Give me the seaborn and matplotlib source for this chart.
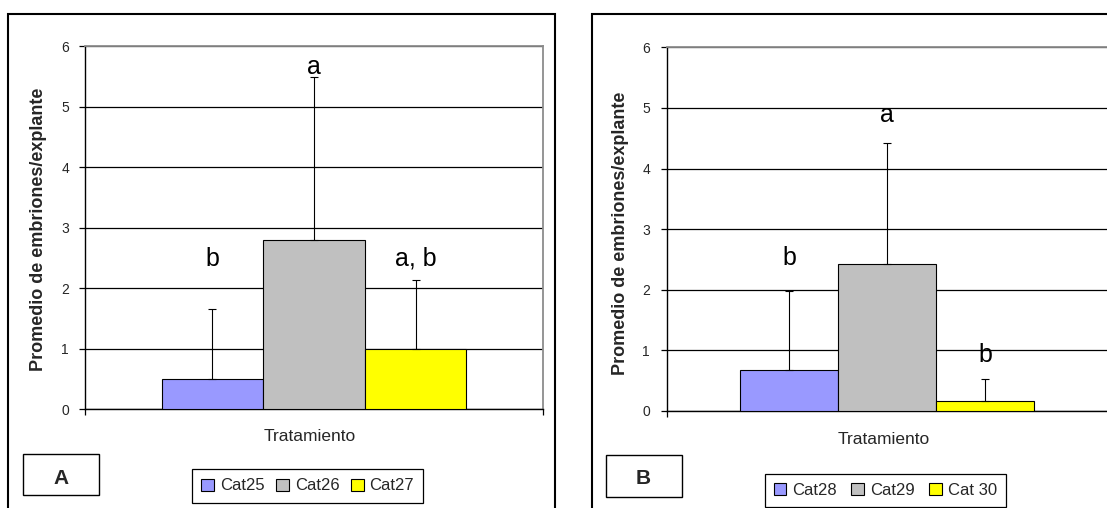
import numpy as np
import pandas as pd
import matplotlib
matplotlib.use("Agg")
import matplotlib.pyplot as plt
from matplotlib.patches import Rectangle, Patch
import seaborn as sns

# ---- data -------------------------------------------------------------
series_a = ["Cat25", "Cat26", "Cat27"]
means_a = [0.5, 2.8, 1.0]
sd_a = [1.15, 2.7, 1.14]
letters_a = ["b", "a", "a, b"]
letter_y_a = [2.37, 5.55, 2.37]

series_b = ["Cat28", "Cat29", "Cat 30"]
means_b = [0.67, 2.42, 0.165]
sd_b = [1.31, 2.0, 0.355]
letters_b = ["b", "a", "b"]
letter_y_b = [2.41, 4.77, 0.81]

bar_colors = ["#9999FF", "#C0C0C0", "#FFFF00"]
category = "Tratamiento"
y_label = "Promedio de embriones/explante"
y_ticks = [0, 1, 2, 3, 4, 5, 6]

# ---- style ------------------------------------------------------------
sns.set_style("white")
plt.rcParams["font.family"] = ["Liberation Sans", "DejaVu Sans"]

W, H = 1107, 508
fig = plt.figure(figsize=(W / 100, H / 100), dpi=100)


def fx(x):
    return x / W


def fy(y):
    return 1 - y / H


def px_axes(left, top, right, bottom):
    return fig.add_axes([fx(left), fy(bottom), (right - left) / W, (bottom - top) / H])


def panel(ax, series, means, sds, letters, letter_y):
    df = pd.DataFrame({"Tratamiento": [category] * len(series),
                       "Serie": series, "Media": means})
    sns.barplot(data=df, x="Tratamiento", y="Media", hue="Serie",
                hue_order=series, palette=bar_colors, errorbar=None,
                width=0.8, edgecolor="black", linewidth=0.8,
                saturation=1, legend=False, ax=ax, zorder=3)
    bars = [p for p in ax.patches][:len(series)]
    centers = [p.get_x() + p.get_width() / 2 for p in bars]
    ax.errorbar(centers, means, yerr=[[0] * len(sds), sds], fmt="none",
                ecolor="black", elinewidth=0.8, capsize=3.2, capthick=0.8,
                zorder=4)
    for cx, s, ly in zip(centers, letters, letter_y):
        ax.text(cx, ly, s, ha="center", va="baseline", fontsize=18,
                color="black", zorder=5)

    ax.set_xlim(-0.6, 0.6)
    ax.set_ylim(0, 6)
    ax.set_yticks(y_ticks)
    ax.set_yticklabels([str(t) for t in y_ticks], fontsize=10)
    ax.set_xticks([-0.6, 0.6])
    ax.set_xticklabels(["", ""])
    ax.tick_params(axis="both", direction="out", length=4.3, width=0.9,
                   color="black", pad=7.5, left=True, bottom=True)
    ax.yaxis.grid(True, color="black", linewidth=0.9, zorder=0)
    ax.xaxis.grid(False)
    ax.set_axisbelow(True)
    for side in ("left", "bottom"):
        ax.spines[side].set_color("black")
        ax.spines[side].set_linewidth(1.0)
    for side in ("top", "right"):
        ax.spines[side].set_color("#8c8c8c")
        ax.spines[side].set_linewidth(1.3)

    ax.set_xlabel(category, fontsize=12.5, ha="center", va="center")
    ax.set_ylabel(y_label, fontsize=13, fontweight="bold",
                  ha="center", va="center")
    return centers


# ---- panel A ----------------------------------------------------------
ax_a = px_axes(85.3, 46.3, 542.7, 409.3)
panel(ax_a, series_a, means_a, sd_a, letters_a, letter_y_a)
ax_a.xaxis.set_label_coords(0.49, -0.076)
ax_a.yaxis.set_label_coords(-0.1034, 0.495)

# ---- panel B ----------------------------------------------------------
ax_b = px_axes(666.5, 47.3, 1107.5, 411.0)
panel(ax_b, series_b, means_b, sd_b, letters_b, letter_y_b)
ax_b.xaxis.set_label_coords(0.493, -0.077)
ax_b.yaxis.set_label_coords(-0.1054, 0.489)

# ---- outer frames -----------------------------------------------------
for (l, t, r, b) in [(8.3, 14, 555, 530), (591.5, 14, 1130, 530)]:
    fig.add_artist(Rectangle((fx(l), fy(b)), (r - l) / W, (b - t) / H,
                             transform=fig.transFigure, fill=False,
                             edgecolor="black", linewidth=1.5))

# ---- panel tags -------------------------------------------------------
for tag, (l, t, r, b), base in [("A", (23.3, 454, 99.3, 495.3), 484),
                                ("B", (605.5, 454.6, 681.8, 496.6), 484.2)]:
    fig.add_artist(Rectangle((fx(l), fy(b)), (r - l) / W, (b - t) / H,
                             transform=fig.transFigure, fill=False,
                             edgecolor="black", linewidth=1.0))
    fig.text(fx((l + r) / 2), fy(base), tag, ha="center", va="baseline",
             fontsize=15, fontweight="bold")

# ---- legends ----------------------------------------------------------
def add_legend(series, left, top, right):
    handles = [Patch(facecolor=c, edgecolor="black", linewidth=0.8)
               for c in bar_colors]
    leg = fig.legend(handles, series, loc="upper left",
                     bbox_to_anchor=(fx(left), fy(top), (right - left) / W, 0.0),
                     mode="expand", ncol=3, frameon=True, fancybox=False,
                     edgecolor="black", framealpha=1, fontsize=12,
                     handlelength=0.75, handleheight=0.75,
                     handletextpad=0.35, columnspacing=0.6,
                     borderpad=0.55, borderaxespad=0)
    leg.get_frame().set_linewidth(0.9)
    return leg


add_legend(series_a, 192.3, 469.3, 423.3)
add_legend(series_b, 764.5, 474.0, 1006.0)

fig.savefig("out.png", dpi=100)
